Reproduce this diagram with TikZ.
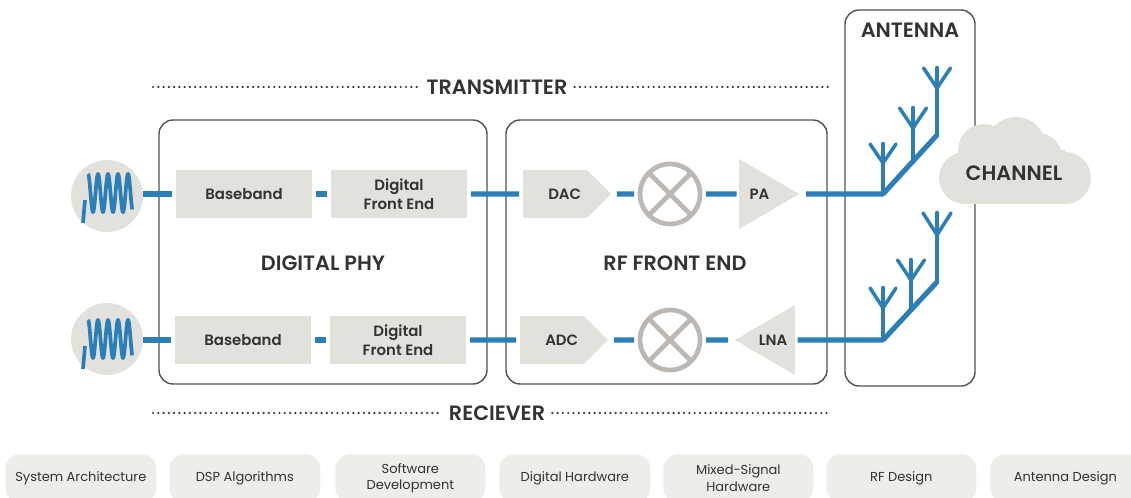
\documentclass[tikz,border=0pt]{standalone}
\usepackage{fontspec}
\setmainfont{Poppins}[BoldFont={Poppins SemiBold}]
\usetikzlibrary{shapes.geometric,shapes.symbols}
\definecolor{sigblue}{HTML}{2B7EB6}
\definecolor{blockgray}{HTML}{E2E1DC}
\definecolor{tabgray}{HTML}{EEEDE9}
\definecolor{ringgray}{HTML}{BDB8B3}
\definecolor{inkgray}{HTML}{333333}
\tikzset{
  sig/.style={sigblue,line width=2.9pt},
  stem/.style={sigblue,line width=2.6pt,line cap=round},
  arm/.style={sigblue,line width=2pt,line cap=round,line join=round},
  coil/.style={sigblue,line width=2.1pt},
  group/.style={draw=inkgray!85,line width=0.8pt,rounded corners=8pt},
  title/.style={inkgray,font=\fontsize{11.8}{14}\selectfont\bfseries,inner sep=0pt},
  block/.style={fill=blockgray,inner sep=0pt,outer sep=2.3pt,minimum width=2.72cm,minimum height=0.96cm,
    text=inkgray,align=center,font=\fontsize{8.5}{10.6}\selectfont\bfseries},
  conv/.style={block,shape=signal,signal to=east,signal pointer angle=90,minimum width=1.76cm,anchor=west},
  amp/.style={block,shape=isosceles triangle,isosceles triangle stretches,minimum width=1.4cm,minimum height=1.2cm,
    anchor=apex,outer sep=1.5pt},
  mixer/.style={circle,draw=ringgray,line width=2.7pt,minimum size=1.2cm,inner sep=0pt,outer sep=3.4pt},
  cross/.style={ringgray,line width=2.7pt,shorten >=4.5pt,shorten <=4.5pt},
  source/.style={circle,fill=blockgray,minimum size=1.44cm,inner sep=0pt},
  dots/.style={inkgray,line width=1.4pt,line cap=round,dash pattern=on 0pt off 3pt},
  field/.style={fill=tabgray,rounded corners=8pt,minimum height=0.96cm,inner sep=0pt,text=inkgray,
    anchor=north west,align=center,font=\fontsize{7.4}{9.4}\selectfont},
}
\begin{document}
\begin{tikzpicture}[x=0.02cm,y=-0.02cm]
  \useasboundingbox (0,0) rectangle (1131,497);

  % groups
  \draw[group] (159,120) rectangle (487,384);
  \draw[group] (506,120) rectangle (827,384);
  \draw[group] (845,10) rectangle (975,386);
  \node[title] (phy) at (323,263) {DIGITAL PHY};
  \node[title] (rf) at (675,263) {RF FRONT END};
  \node[title] (ant) at (910,30) {ANTENNA};

  % channel
  \fill[blockgray] (965,178) circle (26);
  \fill[blockgray] (1065,178) circle (26);
  \fill[blockgray] (984,150) circle (26);
  \fill[blockgray] (1016,147) circle (30);
  \fill[blockgray] (1038,157) circle (24);
  \fill[blockgray] (965,150) rectangle (1065,204);
  \node[title] (channel) at (1014,173) {CHANNEL};

  % transmitter
  \node[source] (srcT) at (107,196) {};
  \node[block] (baseT) at (244,194) {Baseband};
  \node[block] (frontT) at (399,194) {Digital\\Front End};
  \node[conv] (dac) at (519,194) {\hspace*{11pt}DAC};
  \node[mixer] (mixT) at (670,194) {};
  \node[amp] (pa) at (806,194) {PA};
  \coordinate (rootT) at (883,194);
  \draw[sig] (srcT.east |- baseT) -- (baseT);
  \draw[sig] (baseT) -- (frontT);
  \draw[sig] (frontT) -- (dac);
  \draw[sig] (dac) -- (mixT);
  \draw[sig] (mixT) -- (pa);
  \draw[sig] (pa) -- (rootT);
  \coordinate (endT) at (937,135);
  \draw[sig] (rootT) -- (endT);

  % reciever
  \node[source] (srcR) at (107,339) {};
  \node[block] (baseR) at (243,340) {Baseband};
  \node[block] (frontR) at (398,340) {Digital\\Front End};
  \node[conv] (adc) at (516,340) {\hspace*{11pt}ADC};
  \node[mixer] (mixR) at (670,340) {};
  \node[amp,shape border rotate=180] (lna) at (728,340) {LNA};
  \coordinate (rootR) at (883,340);
  \draw[sig] (srcR.east |- baseR) -- (baseR);
  \draw[sig] (baseR) -- (frontR);
  \draw[sig] (frontR) -- (adc);
  \draw[sig] (adc) -- (mixR);
  \draw[sig] (lna) -- (mixR);
  \draw[sig] (lna) -- (rootR);
  \coordinate (endR) at (937,282);
  \draw[sig] (rootR) -- (endR);

  % mixer crosses
  \foreach \m in {mixT,mixR} {
    \draw[cross] (\m.45) -- (\m.225);
    \draw[cross] (\m.135) -- (\m.315);
  }

  % coils
  \foreach \wy in {194,340} {
    \draw[coil,line join=round] (83,\wy+29) -- (85,\wy+6)
      plot[domain=0:1590,samples=160,smooth] ({88+0.0278*\x},{\wy-1-19*cos(\x)});
  }

  % aerials
  \foreach \ax/\ab/\af/\at/\al in {883/194/163/144/13,913/162/128/108/13.5,937/135/88/68/13.5,
                                   883/340/308/288/13,911/308/280/260/13.5,937/282/235/213/14} {
    \draw[stem] (\ax,\ab) -- (\ax,\at);
    \draw[arm] (\ax-\al,\at) -- (\ax,\af) -- (\ax+\al,\at);
  }

  % dotted headers
  \node[title] (tx) at (497,87) {TRANSMITTER};
  \node[title] (rx) at (497,413) {RECIEVER};
  \coordinate (txL) at (153,87);
  \coordinate (txR) at (828,87);
  \coordinate (rxL) at (153,413);
  \coordinate (rxR) at (828,413);
  \draw[dots] (txL) -- ([xshift=-3pt]tx.west);
  \draw[dots] ([xshift=4pt]tx.east) -- (txR);
  \draw[dots] (rxL) -- ([xshift=-4pt]rx.west);
  \draw[dots] ([xshift=4pt]rx.east) -- (rxR);

  % disciplines
  \begin{scope}
    \clip (0,0) rectangle (1131,497);
    \node[field,minimum width=3.02cm] (arch) at (5,454) {System Architecture};
    \node[field,minimum width=3.02cm] (dsp) at (169,454) {DSP Algorithms};
    \node[field,minimum width=3.00cm] (soft) at (335,454) {Software\\Development};
    \node[field,minimum width=3.02cm] (hard) at (499,454) {Digital Hardware};
    \node[field,minimum width=3.00cm] (mixed) at (663,454) {Mixed-Signal\\Hardware};
    \node[field,minimum width=3.00cm] (rfd) at (826,454) {RF Design};
    \node[field,minimum width=3.00cm] (antd) at (990,454) {Antenna Design};
  \end{scope}
\end{tikzpicture}
\end{document}
